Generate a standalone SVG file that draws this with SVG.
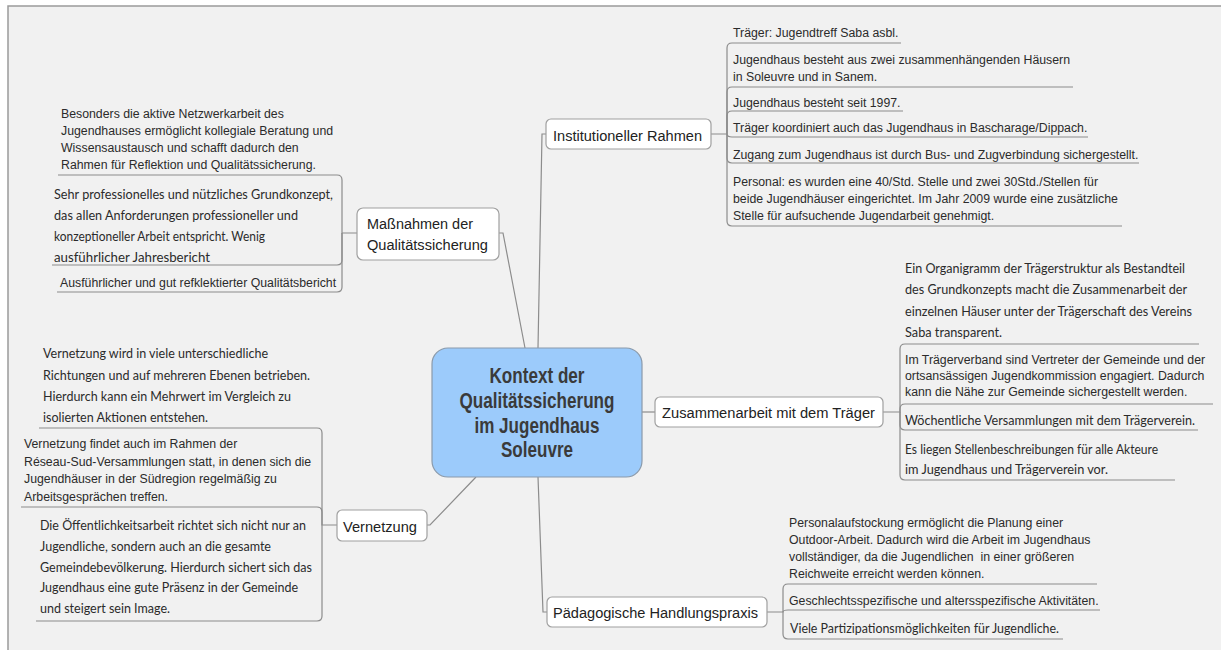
<svg xmlns="http://www.w3.org/2000/svg" width="1221" height="650" viewBox="0 0 1221 650">
<style>
.box{fill:#ffffff;stroke:#a0a0a0;stroke-width:1.2}
.center{fill:#9ccbfb;stroke:#8a9aab;stroke-width:1.2}
.ul{stroke:#8c8c8c;stroke-width:1.2;fill:none}
.conn path{fill:none;stroke:#8c8c8c;stroke-width:1.2}
.a{font-family:"Liberation Sans",Arial,sans-serif;font-size:12.3px;fill:#2b2b2b}
.c{font-family:Lato,"Liberation Sans",sans-serif;font-size:12.8px;fill:#2b2b2b}
.l1{font-family:"Liberation Sans",Arial,sans-serif;font-size:15.5px;fill:#222}
.title{font-family:"Liberation Sans",Arial,sans-serif;font-size:21.5px;font-weight:bold;fill:#3a3a3a;text-anchor:middle}
</style>
<rect x="0" y="0" width="1221" height="650" fill="#ffffff"/>
<rect x="8" y="6" width="1213" height="644" fill="#f1f1f1"/>
<path d="M8,650 V6 H1221" fill="none" stroke="#9a9a9a" stroke-width="1.5"/>

<g id="connectors" class="conn">
<path d="M538,348 L542,134 L546,134"/>
<path d="M525,348 L503,233 L499,233"/>
<path d="M642,412 L655,412"/>
<path d="M476,477 L430,525 L427,525"/>
<path d="M538,477 L543,612 L547,612"/>
<path d="M711,134 H727 V48 Q727,43 732,43"/>
<path d="M727,134 V92 Q727,87 732,87"/>
<path d="M727,134 V116 Q727,111 732,111"/>
<path d="M727,134 Q727,137 732,137"/>
<path d="M727,134 V158 Q727,163 732,163"/>
<path d="M727,134 V221 Q727,226 732,226"/>
<path d="M883,412 H900 V349 Q900,344 905,344"/>
<path d="M900,412 V409 Q900,404 905,404"/>
<path d="M900,412 V425 Q900,430 905,430"/>
<path d="M900,412 V475 Q900,480 905,480"/>
<path d="M767,612 H783 V589 Q783,584 788,584"/>
<path d="M783,612 Q783,610 788,610"/>
<path d="M783,612 V634 Q783,639 788,639"/>
<path d="M357,233 H342 V180 Q342,175 337,175"/>
<path d="M342,233 V260 Q342,265 337,265"/>
<path d="M342,233 V287 Q342,292 337,292"/>
<path d="M337,525 H322 V433 Q322,428 317,428"/>
<path d="M322,525 V512 Q322,507 317,507"/>
<path d="M322,525 V616 Q322,621 317,621"/>
</g>

<g id="central">
<rect class="center" x="432" y="348" width="210" height="129" rx="16"/>
<text class="title" x="537" y="383" textLength="95" lengthAdjust="spacingAndGlyphs">Kontext der</text>
<text class="title" x="537" y="408" textLength="155" lengthAdjust="spacingAndGlyphs">Qualitätssicherung</text>
<text class="title" x="537" y="433" textLength="125" lengthAdjust="spacingAndGlyphs">im Jugendhaus</text>
<text class="title" x="537" y="457" textLength="72" lengthAdjust="spacingAndGlyphs">Soleuvre</text>
</g>

<g id="institutioneller-rahmen">
<rect class="box" x="546" y="119" width="165" height="30" rx="5"/>
<text class="l1" x="553" y="141" textLength="149" lengthAdjust="spacingAndGlyphs">Institutioneller Rahmen</text>
</g>
<g id="ir-1"><text class="a" x="733" y="37">Träger: Jugendtreff Saba asbl.</text><line class="ul" x1="732" y1="43" x2="901" y2="43"/></g>
<g id="ir-2"><text class="a" x="733" y="64">Jugendhaus besteht aus zwei zusammenhängenden Häusern</text><text class="a" x="733" y="81">in Soleuvre und in Sanem.</text><line class="ul" x1="732" y1="87" x2="1073" y2="87"/></g>
<g id="ir-3"><text class="a" x="733" y="107">Jugendhaus besteht seit 1997.</text><line class="ul" x1="732" y1="111" x2="903" y2="111"/></g>
<g id="ir-4"><text class="a" x="733" y="132">Träger koordiniert auch das Jugendhaus in Bascharage/Dippach.</text><line class="ul" x1="732" y1="137" x2="1088" y2="137"/></g>
<g id="ir-5"><text class="a" x="733" y="159">Zugang zum Jugendhaus ist durch Bus- und Zugverbindung sichergestellt.</text><line class="ul" x1="732" y1="163" x2="1139" y2="163"/></g>
<g id="ir-6"><text class="a" x="733" y="186">Personal: es wurden eine 40/Std. Stelle und zwei 30Std./Stellen für</text><text class="a" x="733" y="203">beide Jugendhäuser eingerichtet. Im Jahr 2009 wurde eine zusätzliche</text><text class="a" x="733" y="220">Stelle für aufsuchende Jugendarbeit genehmigt.</text><line class="ul" x1="732" y1="226" x2="1122" y2="226"/></g>

<g id="massnahmen">
<rect class="box" x="357" y="208" width="142" height="52" rx="6"/>
<text class="l1" x="367" y="229" textLength="106" lengthAdjust="spacingAndGlyphs">Maßnahmen der</text>
<text class="l1" x="367" y="250" textLength="121" lengthAdjust="spacingAndGlyphs">Qualitätssicherung</text>
</g>
<g id="m-1"><text class="a" x="61" y="118">Besonders die aktive Netzwerkarbeit des</text><text class="a" x="61" y="135">Jugendhauses ermöglicht kollegiale Beratung und</text><text class="a" x="61" y="152">Wissensaustausch und schafft dadurch den</text><text class="a" x="61" y="169">Rahmen für Reflektion und Qualitätssicherung.</text><line class="ul" x1="58" y1="175" x2="337" y2="175"/></g>
<g id="m-2"><text class="c" x="54" y="199" textLength="279" lengthAdjust="spacingAndGlyphs">Sehr professionelles und nützliches Grundkonzept,</text><text class="c" x="54" y="220" textLength="244" lengthAdjust="spacingAndGlyphs">das allen Anforderungen professioneller und</text><text class="c" x="54" y="241" textLength="211" lengthAdjust="spacingAndGlyphs">konzeptioneller Arbeit entspricht. Wenig</text><text class="c" x="54" y="262" textLength="156" lengthAdjust="spacingAndGlyphs">ausführlicher Jahresbericht</text><line class="ul" x1="52" y1="265" x2="337" y2="265"/></g>
<g id="m-3"><text class="a" x="60" y="287">Ausführlicher und gut refklektierter Qualitätsbericht</text><line class="ul" x1="57" y1="292" x2="337" y2="292"/></g>

<g id="vernetzung">
<rect class="box" x="337" y="510" width="90" height="31" rx="5"/>
<text class="l1" x="343" y="532" textLength="74" lengthAdjust="spacingAndGlyphs">Vernetzung</text>
</g>
<g id="v-1"><text class="c" x="43" y="358" textLength="225" lengthAdjust="spacingAndGlyphs">Vernetzung wird in viele unterschiedliche</text><text class="c" x="43" y="380" textLength="267" lengthAdjust="spacingAndGlyphs">Richtungen und auf mehreren Ebenen betrieben.</text><text class="c" x="43" y="401" textLength="248" lengthAdjust="spacingAndGlyphs">Hierdurch kann ein Mehrwert im Vergleich zu</text><text class="c" x="43" y="422" textLength="165" lengthAdjust="spacingAndGlyphs">isolierten Aktionen entstehen.</text><line class="ul" x1="39" y1="428" x2="317" y2="428"/></g>
<g id="v-2"><text class="a" x="24" y="448">Vernetzung findet auch im Rahmen der</text><text class="a" x="24" y="466">Réseau-Sud-Versammlungen statt, in denen sich die</text><text class="a" x="24" y="483">Jugendhäuser in der Südregion regelmäßig zu</text><text class="a" x="24" y="501">Arbeitsgesprächen treffen.</text><line class="ul" x1="21" y1="507" x2="317" y2="507"/></g>
<g id="v-3"><text class="c" x="40" y="530" textLength="266" lengthAdjust="spacingAndGlyphs">Die Öffentlichkeitsarbeit richtet sich nicht nur an</text><text class="c" x="40" y="551" textLength="231" lengthAdjust="spacingAndGlyphs">Jugendliche, sondern auch an die gesamte</text><text class="c" x="40" y="572" textLength="272" lengthAdjust="spacingAndGlyphs">Gemeindebevölkerung. Hierdurch sichert sich das</text><text class="c" x="40" y="592" textLength="258" lengthAdjust="spacingAndGlyphs">Jugendhaus eine gute Präsenz in der Gemeinde</text><text class="c" x="40" y="613" textLength="130" lengthAdjust="spacingAndGlyphs">und steigert sein Image.</text><line class="ul" x1="36" y1="621" x2="317" y2="621"/></g>

<g id="zusammenarbeit">
<rect class="box" x="655" y="397" width="228" height="30" rx="5"/>
<text class="l1" x="662" y="418" textLength="213" lengthAdjust="spacingAndGlyphs">Zusammenarbeit mit dem Träger</text>
</g>
<g id="z-1"><text class="c" x="905" y="273" textLength="280" lengthAdjust="spacingAndGlyphs">Ein Organigramm der Trägerstruktur als Bestandteil</text><text class="c" x="905" y="294" textLength="282" lengthAdjust="spacingAndGlyphs">des Grundkonzepts macht die Zusammenarbeit der</text><text class="c" x="905" y="316" textLength="287" lengthAdjust="spacingAndGlyphs">einzelnen Häuser unter der Trägerschaft des Vereins</text><text class="c" x="905" y="337" textLength="97" lengthAdjust="spacingAndGlyphs">Saba transparent.</text><line class="ul" x1="905" y1="344" x2="1199" y2="344"/></g>
<g id="z-2"><text class="a" x="905" y="364">Im Trägerverband sind Vertreter der Gemeinde und der</text><text class="a" x="905" y="380">ortsansässigen Jugendkommission engagiert. Dadurch</text><text class="a" x="905" y="396">kann die Nähe zur Gemeinde sichergestellt werden.</text><line class="ul" x1="905" y1="404" x2="1213" y2="404"/></g>
<g id="z-3"><text class="c" x="905" y="425" textLength="290" lengthAdjust="spacingAndGlyphs">Wöchentliche Versammlungen mit dem Trägerverein.</text><line class="ul" x1="905" y1="430" x2="1198" y2="430"/></g>
<g id="z-4"><text class="c" x="905" y="454" textLength="253" lengthAdjust="spacingAndGlyphs">Es liegen Stellenbeschreibungen für alle Akteure</text><text class="c" x="905" y="474" textLength="203" lengthAdjust="spacingAndGlyphs">im Jugendhaus und Trägerverein vor.</text><line class="ul" x1="905" y1="480" x2="1175" y2="480"/></g>

<g id="paedagogische">
<rect class="box" x="547" y="597" width="220" height="30" rx="5"/>
<text class="l1" x="553" y="618" textLength="205" lengthAdjust="spacingAndGlyphs">Pädagogische Handlungspraxis</text>
</g>
<g id="p-1"><text class="a" x="789" y="527">Personalaufstockung ermöglicht die Planung einer</text><text class="a" x="789" y="544">Outdoor-Arbeit. Dadurch wird die Arbeit im Jugendhaus</text><text class="a" x="789" y="561" xml:space="preserve">vollständiger, da die Jugendlichen  in einer größeren</text><text class="a" x="789" y="578">Reichweite erreicht werden können.</text><line class="ul" x1="788" y1="584" x2="1097" y2="584"/></g>
<g id="p-2"><text class="a" x="789" y="605">Geschlechtsspezifische und altersspezifische Aktivitäten.</text><line class="ul" x1="788" y1="610" x2="1100" y2="610"/></g>
<g id="p-3"><text class="c" x="790" y="633" textLength="269" lengthAdjust="spacingAndGlyphs">Viele Partizipationsmöglichkeiten für Jugendliche.</text><line class="ul" x1="788" y1="639" x2="1063" y2="639"/></g>
</svg>
